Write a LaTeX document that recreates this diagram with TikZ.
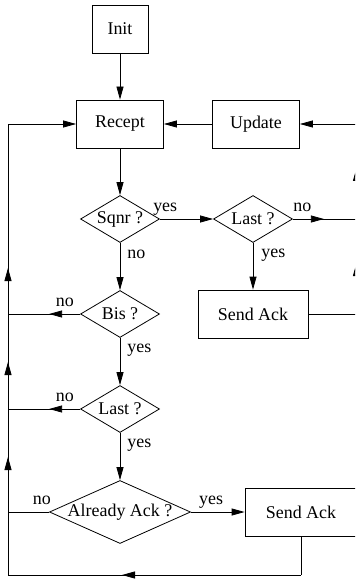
\documentclass[tikz,border=0pt]{standalone}
\usepackage{fontspec}
\setmainfont{Liberation Serif}
\usetikzlibrary{shapes.geometric,arrows.meta,decorations.markings}

\begin{document}
\begin{tikzpicture}[x=1bp,y=-1bp,line width=0.8pt,
    every node/.style={font=\fontsize{18}{21}\selectfont},
    box/.style={draw,rectangle,minimum height=48bp,inner sep=0pt},
    test/.style={draw,diamond,inner sep=0pt,aspect=1.68,minimum width=79bp,minimum height=47bp},
    lbl/.style={inner sep=0pt,anchor=base},
    >={Triangle[length=13bp,width=7bp]},
    tipat/.style={postaction={decorate},decoration={markings,mark=at position #1 with {\arrow{>}}}}]
      \useasboundingbox (0,0) rectangle (355,583);
      \clip (0,0) rectangle (355,583);

      \node[box,minimum width=56bp] (init) at (120,29){Init};
      \node[box,minimum width=87bp] (recept) at (120,124){Recept};
      \node[box,minimum width=87bp] (update) at (256,124){Update};
      \node[test] (sqnr) at (120,219){Sqnr ?};
      \node[test] (last) at (253,219){Last ?};
      \node[box,minimum width=110bp] (sendack) at (253,314){Send Ack};
      \node[test] (bis) at (120,314){Bis ?};
      \node[test] (lastb) at (120,409){Last ?};
      \node[test,aspect=2.24,minimum width=141bp,minimum height=63bp] (already) at (120,512){Already Ack ?};
      \node[box,minimum width=112bp] (sendackb) at (301,512){Send Ack};

      \coordinate (l1) at (8,124);
      \coordinate (l2) at (8,314);
      \coordinate (l3) at (8,409);
      \coordinate (l4) at (8,512);
      \coordinate (l5) at (8,575);
      \coordinate (b1) at (301,575);
      \coordinate (r1) at (356.5,124);
      \coordinate (r2) at (356.5,219);
      \coordinate (r3) at (356.5,314);

      \draw[->] (init) -- (recept);
      \draw[->] (recept) -- (sqnr);
      \draw[->] (sqnr) -- node[lbl,pos=0.1,yshift=7.5bp] (sqnryes){yes} (last);
      \draw[->] (sqnr) -- node[lbl,anchor=base west,pos=0.33,xshift=7bp] (sqnrno){no} (bis);
      \draw[tipat=31bp] (last) -- node[lbl,pos=0.15,yshift=7.5bp] (lastno){no} (r2);
      \draw[->] (last) -- node[lbl,anchor=base west,pos=0.31,xshift=8bp] (lastyes){yes} (sendack);
      \draw (sendack) -- (r3);
      \draw[tipat=51bp] (r3) -- (r2);
      \draw[tipat=51bp] (r2) -- (r1);
      \draw[->] (r1) -- (update);
      \draw[->] (update) -- (recept);

      \draw[tipat=31bp] (bis) -- node[lbl,pos=0.21,yshift=7.5bp] (bisno){no} (l2);
      \draw[->] (bis) -- node[lbl,anchor=base west,pos=0.31,xshift=7bp] (bisyes){yes} (lastb);
      \draw[tipat=31bp] (lastb) -- node[lbl,pos=0.21,yshift=7.5bp] (lastbno){no} (l3);
      \draw[->] (lastb) -- node[lbl,anchor=base west,pos=0.31,xshift=7bp] (lastbyes){yes} (already);
      \draw (already) -- node[lbl,pos=0.175,yshift=7.5bp] (alreadyno){no} (l4);
      \draw[->] (already) -- node[lbl,pos=0.375,yshift=7.5bp] (alreadyyes){yes} (sendackb);

      \draw (sendackb) -- (b1);
      \draw[tipat=179bp] (b1) -- (l5);
      \draw (l5) -- (l4);
      \draw[tipat=55bp] (l4) -- (l3);
      \draw[tipat=47bp] (l3) -- (l2);
      \draw[tipat=46bp] (l2) -- (l1);
      \draw[->] (l1) -- (recept);
    \end{tikzpicture}
\end{document}
